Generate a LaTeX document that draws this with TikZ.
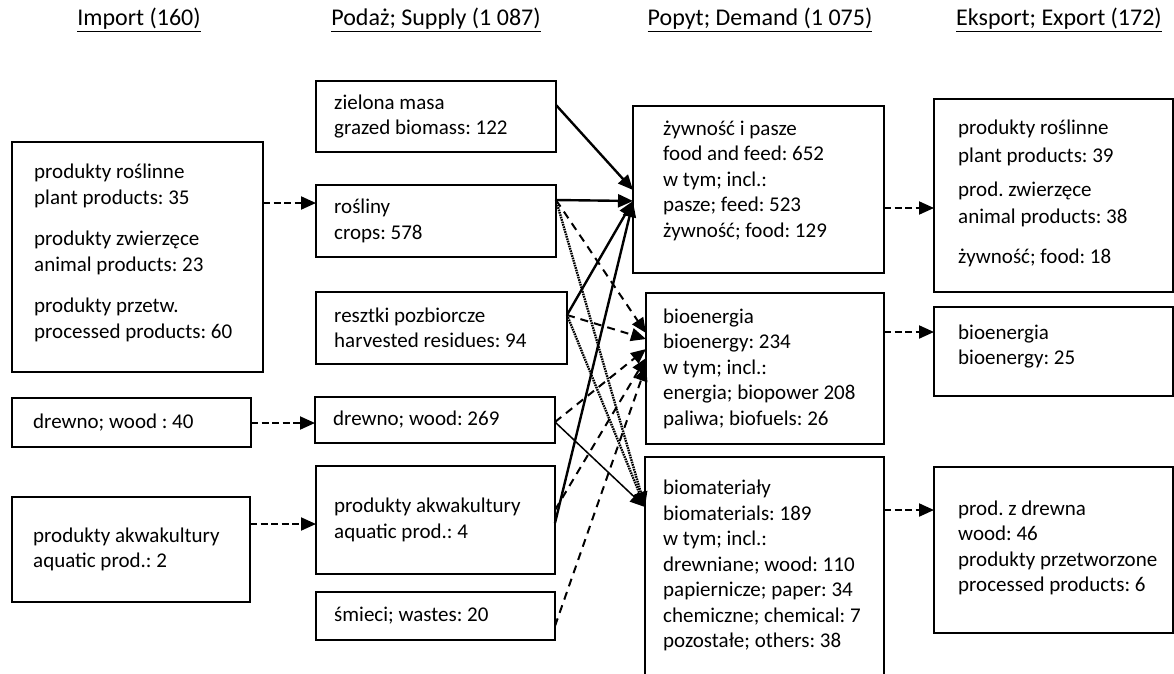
\documentclass[tikz,border=0pt]{standalone}
\usepackage{fontspec}
\setmainfont{Carlito}
\usetikzlibrary{arrows.meta,calc}
\newcommand\mybox[8]{%
  \pgfmathsetmacro\bw{#4-#2}\pgfmathsetmacro\bh{#5-#3}%
  \node[box, minimum height=\bh pt, minimum width=\bw pt] (#1) at (#2,#3) {};
  \node[boxtext] (#1-t) at ($(#1.west)+(#6,#7)$) {#8};}
\begin{document}
\begin{tikzpicture}[x=1pt,y=-1pt,
  box/.style={draw, line width=1.3pt, anchor=north west, outer sep=0pt, inner sep=0pt},
  boxtext/.style={anchor=west, align=left, inner sep=0pt,
    font=\fontsize{21}{25.5}\selectfont\frenchspacing},
  head/.style={font=\fontsize{24}{28}\selectfont, inner sep=0pt},
  tip/.style={-{Triangle[length=15pt,width=13pt]}},
  sidearr/.style={tip, line width=2pt, dash pattern=on 7pt off 3.5pt},
  solidarr/.style={tip, line width=2.4pt},
  dasharr/.style={tip, line width=2pt, dash pattern=on 8pt off 6pt},
  dotarr/.style={tip, line width=2.4pt, dash pattern=on 1.6pt off 0.9pt},
  thinarr/.style={tip, line width=1.5pt}]
\clip (0,0) rectangle (1174,673);

% headers
\node[head] (h1) at (139,20) {\underline{Import (160)}};
\node[head] (h2) at (436,20) {\underline{Podaż; Supply (1 087)}};
\node[head] (h3) at (760,20) {\underline{Popyt; Demand (1 075)}};
\node[head] (h4) at (1059,20) {\underline{Eksport; Export (172)}};

% import
\mybox{imp1}{12}{142}{263}{372}{22}{-4}{produkty roślinne\\plant products: 35\\[16pt]produkty zwierzęce\\animal products: 23\\[16pt]produkty przetw.\\processed products: 60}
\mybox{imp2}{12}{398}{251}{447}{21}{0}{drewno; wood : 40}
\mybox{imp3}{12}{497}{250}{602}{21}{0}{produkty akwakultury\\aquatic prod.: 2}

% supply
\mybox{grazed}{316}{81}{556}{152}{18}{0}{zielona masa\\grazed biomass: 122}
\mybox{crops}{316}{185}{556}{257}{18}{0}{rośliny\\crops: 578}
\mybox{resid}{316}{292}{567}{364}{18}{0}{resztki pozbiorcze\\harvested residues: 94}
\mybox{woodS}{315}{397}{555}{443}{18}{0}{drewno; wood: 269}
\mybox{aqua}{316}{466}{555}{574}{18}{0}{produkty akwakultury\\aquatic prod.: 4}
\mybox{waste}{316}{592}{555}{640}{18}{0}{śmieci; wastes: 20}

% demand
\mybox{food}{633}{106}{884}{273}{30}{-9}{żywność i pasze\\food and feed: 652\\w tym; incl.:\\pasze; feed: 523\\żywność; food: 129}
\mybox{bio}{646}{293}{884}{444}{17}{0}{bioenergia\\bioenergy: 234\\w tym; incl.:\\energia; biopower 208\\paliwa; biofuels: 26}
\mybox{mat}{645}{457}{884}{690}{18}{-8}{biomateriały\\biomaterials: 189\\w tym; incl.:\\drewniane; wood: 110\\papiernicze; paper: 34\\chemiczne; chemical: 7\\pozostałe; others: 38}

% export
\mybox{exp1}{934}{99}{1173}{292}{24}{-2}{produkty roślinne\\[2pt]plant products: 39\\[9pt]prod. zwierzęce\\[1pt]animal products: 38\\[15pt]żywność; food: 18}
\mybox{exp2}{934}{307}{1173}{396}{24}{-5}{bioenergia\\bioenergy: 25}
\mybox{exp3}{934}{467}{1173}{633}{24}{-2}{prod. z drewna\\wood: 46\\produkty przetworzone\\processed products: 6}

% import -> supply
\draw[sidearr] ($(imp1.north east)+(0,61)$) -- ($(crops.north west)+(0,18)$);
\draw[sidearr] ($(imp2.north east)+(0,25)$) -- ($(woodS.north west)+(0,26)$);
\draw[sidearr] ($(imp3.north east)+(0,27)$) -- ($(aqua.north west)+(0,58)$);

% demand -> export
\draw[sidearr] ($(food.north east)+(0,102)$) -- ($(exp1.north west)+(0,109)$);
\draw[sidearr] ($(bio.north east)+(0,39)$) -- ($(exp2.north west)+(0,25)$);
\draw[sidearr] ($(mat.north east)+(0,53)$) -- ($(exp3.north west)+(0,43)$);

% supply -> demand: food and feed
\draw[solidarr] ($(grazed.north east)+(0,24)$) -- ($(food.north west)+(0,84)$);
\draw[solidarr] ($(crops.north east)+(0,15)$) -- ($(food.north west)+(0,95)$);
\draw[solidarr] ($(resid.north east)+(0,23)$) -- ($(food.north west)+(0,95)$);
\draw[solidarr] ($(aqua.north east)+(0,57)$) -- ($(food.north west)+(0,96)$);

% supply -> demand: bioenergy
\draw[dasharr] ($(crops.north east)+(0,15)$) -- ($(bio.north west)+(0,40)$);
\draw[dasharr] ($(resid.north east)+(0,23)$) -- ($(bio.north west)+(0,46)$);
\draw[dasharr] ($(woodS.north east)+(0,25)$) -- ($(bio.north west)+(0,56)$);
\draw[dasharr] ($(aqua.north east)+(0,44)$) -- ($(bio.north west)+(0,65)$);
\draw[dasharr] ($(waste.north east)+(0,34)$) -- ($(bio.north west)+(0,73)$);

% supply -> demand: biomaterials
\draw[dotarr] ($(crops.north east)+(0,15)$) -- ($(mat.north west)+(0,50)$);
\draw[dotarr] ($(resid.north east)+(0,23)$) -- ($(mat.north west)+(0,50)$);
\draw[thinarr] ($(woodS.north east)+(0,25)$) -- ($(mat.north west)+(0,50)$);
\end{tikzpicture}
\end{document}
